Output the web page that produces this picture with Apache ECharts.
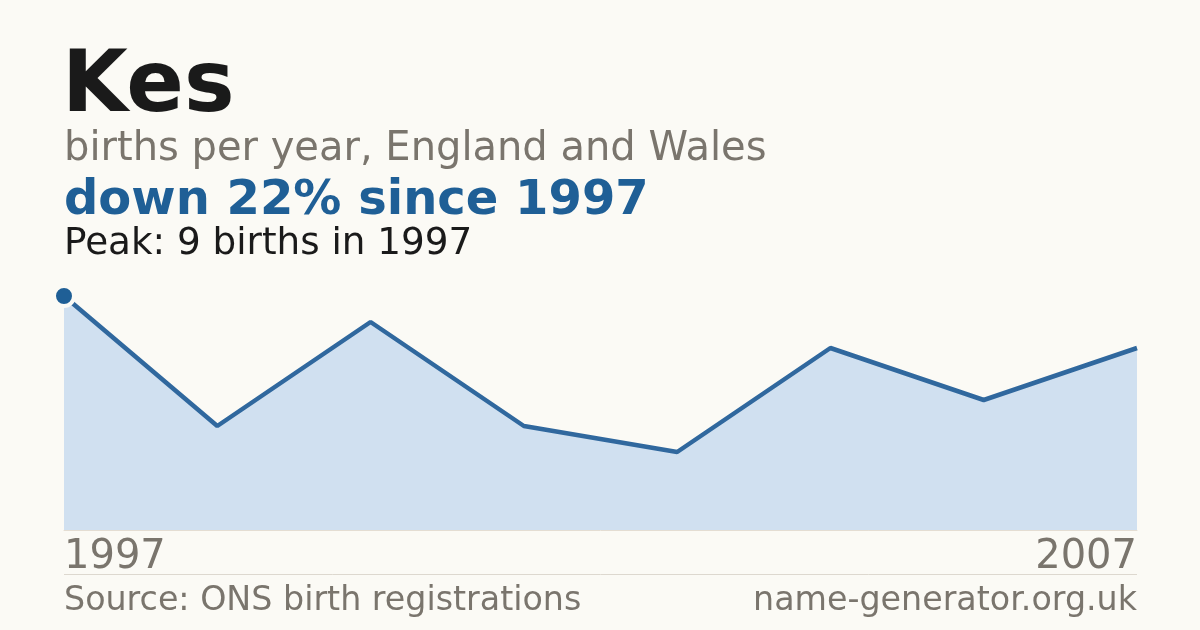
<!DOCTYPE html>
<html>
<head>
<meta charset="utf-8">
<script src="https://cdn.jsdelivr.net/npm/echarts@6/dist/echarts.min.js"></script>
<style>
html,body{margin:0;padding:0;background:#fbfaf5;}
#c{width:1200px;height:630px;}
</style>
</head>
<body>
<div id="c"></div>
<script>
var years = ["1997", "1998", "2000", "2001", "2003", "2004", "2006", "2007"];
var births = [9, 4, 8, 4, 3, 7, 5, 7];
var titleText = "Kes";
var subtitleText = "births per year, England and Wales";
var changeText = "down 22% since 1997";
var peakText = "Peak: 9 births in 1997";
var sourceText = "Source: ONS birth registrations";
var siteText = "name-generator.org.uk";

var bg = '#fbfaf5';
var font = '"DejaVu Sans", sans-serif';
var chart = echarts.init(document.getElementById('c'));

var seriesData = births.map(function (v, i) {
  if (i === 0) {
    return {
      value: v,
      symbol: 'circle',
      symbolSize: 20,
      itemStyle: { color: '#1f5f96', borderColor: bg, borderWidth: 4 }
    };
  }
  return { value: v, symbol: 'none' };
});

chart.setOption({
  backgroundColor: bg,
  animation: false,
  grid: { left: 64, right: 63, top: 296, bottom: 100 },
  xAxis: {
    type: 'category',
    data: years,
    boundaryGap: false,
    axisLine: { show: true, lineStyle: { color: '#e4ddd2', width: 1 } },
    axisTick: { show: false },
    splitLine: { show: false },
    axisLabel: {
      show: true,
      interval: 0,
      margin: 8,
      fontFamily: font,
      fontSize: 40,
      color: '#7a756d',
      alignMinLabel: 'left',
      alignMaxLabel: 'right',
      formatter: function (val, idx) {
        return (idx === 0 || idx === years.length - 1) ? val : '';
      }
    }
  },
  yAxis: {
    type: 'value',
    min: 0,
    max: 9,
    show: false
  },
  series: [{
    type: 'line',
    data: seriesData,
    showSymbol: true,
    z: 3,
    lineStyle: { color: '#30689e', width: 4.5 },
    areaStyle: { color: '#d0e0f0', opacity: 1 },
    emphasis: { disabled: true }
  }],
  graphic: [
    { type: 'text', x: 62, y: 89, style: { text: titleText, font: 'bold 85px ' + font, fill: '#1a1a1a', verticalAlign: 'middle', align: 'left' } },
    { type: 'text', x: 64, y: 150, style: { text: subtitleText, font: '40px ' + font, fill: '#7a756d', verticalAlign: 'middle', align: 'left' } },
    { type: 'text', x: 64, y: 202, style: { text: changeText, font: 'bold 48px ' + font, fill: '#1f5f96', verticalAlign: 'middle', align: 'left' } },
    { type: 'text', x: 64, y: 244, style: { text: peakText, font: '37.3px ' + font, fill: '#1a1a1a', verticalAlign: 'middle', align: 'left' } },
    { type: 'line', shape: { x1: 64, y1: 574.5, x2: 1137, y2: 574.5 }, style: { stroke: '#ddd8cf', lineWidth: 1 } },
    { type: 'text', x: 64, y: 601, style: { text: sourceText, font: '33.3px ' + font, fill: '#7a756d', verticalAlign: 'middle', align: 'left' } },
    { type: 'text', x: 1137, y: 601, style: { text: siteText, font: '33.3px ' + font, fill: '#7a756d', verticalAlign: 'middle', align: 'right' } }
  ]
});
</script>
</body>
</html>
